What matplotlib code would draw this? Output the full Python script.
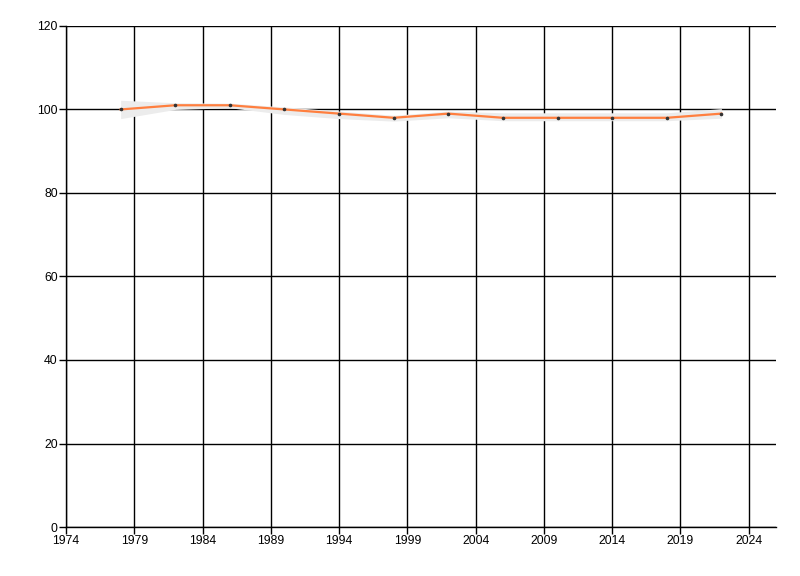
import numpy as np
import matplotlib
matplotlib.use('Agg')
import matplotlib.pyplot as plt

# values
years = [1978, 1982, 1986, 1990, 1994, 1998, 2002, 2006, 2010, 2014, 2018, 2022]
values = [100, 101, 101, 100, 99, 98, 99, 98, 98, 98, 98, 99]
upper = [102.2, 101.6, 101.5, 100.6, 99.6, 98.6, 99.6, 99.2, 99.2, 99.2, 99.2, 100.2]
lower = [97.8, 100, 100.4, 98.8, 97.8, 97.2, 98, 97.3, 97.3, 97.3, 97.3, 97.9]
xticks = list(range(1974, 2025, 5))
yticks = list(range(0, 121, 20))

plt.rcParams['font.family'] = ['Liberation Sans', 'DejaVu Sans']

fig = plt.figure(figsize=(8, 5.76), dpi=100)
ax = fig.add_axes([0.0825, 0.085, 0.8875, 0.87])

ax.fill_between(years, lower, upper, color='#ececec', lw=0, zorder=2)
ax.plot(years, values, color='#ff7f3f', lw=1.6, zorder=3)
ax.plot(years, values, 'o', color='#333333', ms=1.6, zorder=4)

ax.set_xlim(1974, 2026)
ax.set_ylim(0, 120)
ax.set_xticks(xticks)
ax.set_yticks(yticks)
ax.grid(True, color='black', lw=1, zorder=1)
ax.set_axisbelow(True)
for s in ['top', 'right']:
    ax.spines[s].set_visible(False)
for s in ['left', 'bottom']:
    ax.spines[s].set_linewidth(1)
ax.tick_params(direction='out', length=5, width=1, labelsize=8.8, pad=1)

fig.savefig('out.png', dpi=100)
